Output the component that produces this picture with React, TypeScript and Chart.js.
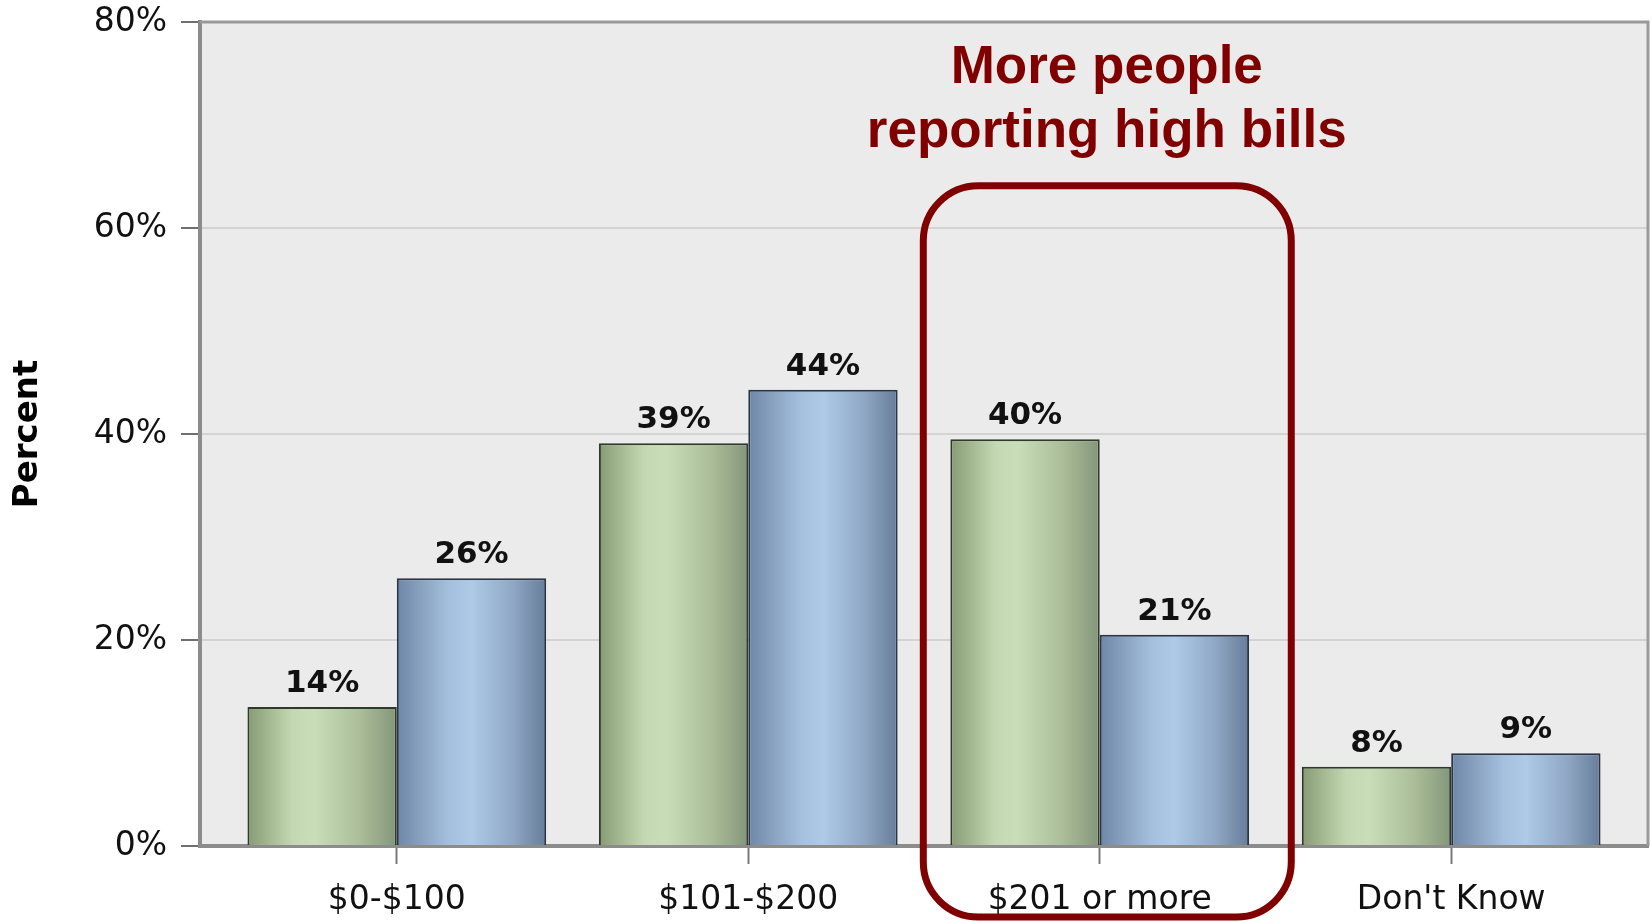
import React, { useEffect, useRef } from "react";
import { Chart, registerables } from "chart.js";

Chart.register(...registerables);

// ---- data ----
const categories = ["$0-$100", "$101-$200", "$201 or more", "Don't Know"];
const seriesEarlier = [13.5, 39.1, 39.5, 7.7];
const seriesLater = [26.0, 44.3, 20.5, 9.0];
const seriesNames = ["Earlier survey", "Later survey"];
const yTickValues = [0, 20, 40, 60, 80];
const calloutLines = ["More people", "reporting high bills"];
const highlightedCategory = 2;

// ---- styling helpers ----
const CATEGORY_PCT = 0.85;
const greenStops: [number, string][] = [
  [0, "#879a74"],
  [0.3, "#c3d8b2"],
  [0.45, "#c9ddb9"],
  [0.75, "#abbe99"],
  [1, "#84967a"],
];
const blueStops: [number, string][] = [
  [0, "#6f87a6"],
  [0.35, "#a5c0de"],
  [0.5, "#aecae7"],
  [0.78, "#8fa7c4"],
  [1, "#677d99"],
];

function barGradient(ctx: any, stops: [number, string][]) {
  const chart = ctx.chart;
  const xs = chart.scales?.x;
  if (!xs || ctx.dataIndex === undefined) return stops[1][1];
  const c = xs.getPixelForValue(ctx.dataIndex);
  const step = xs.getPixelForValue(1) - xs.getPixelForValue(0);
  const w = (step * CATEGORY_PCT) / 2;
  const left = ctx.datasetIndex === 0 ? c - w : c;
  if (!isFinite(left) || !isFinite(w) || w <= 0) return stops[1][1];
  const g = chart.ctx.createLinearGradient(left, 0, left + w, 0);
  stops.forEach(([o, col]) => g.addColorStop(o, col));
  return g;
}

const backgroundPlugin = {
  id: "plotBackground",
  beforeDraw(chart: any) {
    const { ctx, chartArea: a } = chart;
    ctx.save();
    ctx.fillStyle = "#ebebeb";
    ctx.fillRect(a.left, a.top, a.right - a.left, a.bottom - a.top);
    ctx.restore();
  },
  afterDatasetsDraw(chart: any) {
    const { ctx, chartArea: a } = chart;
    ctx.save();
    ctx.strokeStyle = "#999999";
    ctx.lineWidth = 3;
    ctx.beginPath();
    ctx.moveTo(a.left, a.top);
    ctx.lineTo(a.right, a.top);
    ctx.lineTo(a.right, a.bottom);
    ctx.stroke();
    ctx.restore();
  },
};

const valueLabelPlugin = {
  id: "valueLabels",
  afterDatasetsDraw(chart: any) {
    const { ctx } = chart;
    ctx.save();
    ctx.font = "bold 31px 'DejaVu Sans'";
    ctx.fillStyle = "#111111";
    ctx.textAlign = "center";
    ctx.textBaseline = "alphabetic";
    chart.data.datasets.forEach((ds: any, di: number) => {
      const meta = chart.getDatasetMeta(di);
      meta.data.forEach((el: any, i: number) => {
        const v = ds.data[i].y;
        ctx.fillText(Math.round(v) + "%", el.x, el.y - 15);
      });
    });
    ctx.restore();
  },
};

const calloutPlugin = {
  id: "callout",
  afterDraw(chart: any) {
    const { ctx } = chart;
    const xs = chart.scales.x;
    const ys = chart.scales.y;
    const left = xs.getPixelForValue(highlightedCategory - 0.502);
    const right = xs.getPixelForValue(highlightedCategory + 0.545);
    const top = ys.getPixelForValue(64.1);
    const bottom = ys.getPixelForValue(-6.9);
    const r = 55;
    ctx.save();
    ctx.strokeStyle = "#800000";
    ctx.lineWidth = 7;
    ctx.beginPath();
    ctx.moveTo(left + r, top);
    ctx.lineTo(right - r, top);
    ctx.arcTo(right, top, right, top + r, r);
    ctx.lineTo(right, bottom - r);
    ctx.arcTo(right, bottom, right - r, bottom, r);
    ctx.lineTo(left + r, bottom);
    ctx.arcTo(left, bottom, left, bottom - r, r);
    ctx.lineTo(left, top + r);
    ctx.arcTo(left, top, left + r, top, r);
    ctx.closePath();
    ctx.stroke();

    ctx.fillStyle = "#800000";
    ctx.font = "bold 53px 'Liberation Sans'";
    ctx.textAlign = "center";
    ctx.textBaseline = "alphabetic";
    const tx = xs.getPixelForValue(highlightedCategory + 0.02);
    ctx.fillText(calloutLines[0], tx, ys.getPixelForValue(74.1));
    ctx.fillText(calloutLines[1], tx, ys.getPixelForValue(67.9));
    ctx.restore();
  },
};

export default function App() {
  const canvasRef = useRef<HTMLCanvasElement | null>(null);

  useEffect(() => {
    const canvas = canvasRef.current;
    if (!canvas) return;
    Chart.defaults.font.family = "'DejaVu Sans'";
    const chart = new Chart(canvas, {
      type: "bar",
      data: {
        datasets: [
          {
            label: seriesNames[0],
            data: seriesEarlier.map((v, i) => ({ x: i, y: v })),
            backgroundColor: (ctx: any) => barGradient(ctx, greenStops),
            borderColor: "#2e3a2c",
            borderWidth: 2,
            borderSkipped: "bottom",
            categoryPercentage: CATEGORY_PCT,
            barPercentage: 1,
          },
          {
            label: seriesNames[1],
            data: seriesLater.map((v, i) => ({ x: i, y: v })),
            backgroundColor: (ctx: any) => barGradient(ctx, blueStops),
            borderColor: "#2a3446",
            borderWidth: 2,
            borderSkipped: "bottom",
            categoryPercentage: CATEGORY_PCT,
            barPercentage: 1,
          },
        ] as any,
      },
      options: {
        responsive: false,
        animation: false,
        devicePixelRatio: 1,
        layout: { padding: { top: 22, right: 3, left: 0, bottom: 0 } },
        plugins: {
          legend: { display: false },
          tooltip: { enabled: false },
        },
        scales: {
          x: {
            type: "linear",
            position: "bottom",
            offset: false,
            min: -0.56,
            max: 3.56,
            grid: {
              offset: false,
              drawOnChartArea: false,
              tickLength: 18,
              tickColor: "#7a7a7a",
              tickWidth: 2,
            },
            border: { color: "#8c8c8c", width: 4 },
            ticks: {
              stepSize: 1,
              includeBounds: false,
              autoSkip: false,
              maxRotation: 0,
              padding: 17,
              color: "#111111",
              font: { size: 33 },
              callback: (v: any) => categories[v as number] ?? "",
            },
            afterFit: (s: any) => {
              s.height = 77;
              s.paddingLeft = 0;
              s.paddingRight = 0;
            },
          } as any,
          y: {
            min: 0,
            max: 80,
            grid: {
              color: "#d3d3d3",
              lineWidth: 2,
              tickLength: 19,
              tickColor: "#6f6f6f",
              tickWidth: 2,
            },
            border: { color: "#8c8c8c", width: 4 },
            ticks: {
              padding: 14,
              color: "#111111",
              font: { size: 33 },
              callback: (v: any) => v + "%",
            },
            afterBuildTicks: (s: any) => {
              s.ticks = yTickValues.map((v) => ({ value: v }));
            },
            title: {
              display: true,
              text: "Percent",
              color: "#000000",
              font: { size: 34, weight: "bold" },
              padding: { top: 8, bottom: 0 },
            },
            afterFit: (s: any) => {
              s.width = 200;
              s.paddingTop = 0;
              s.paddingBottom = 0;
            },
          } as any,
        },
      },
      plugins: [backgroundPlugin, valueLabelPlugin, calloutPlugin],
    });
    return () => chart.destroy();
  }, []);

  return (
    <div style={{ position: "fixed", left: 0, top: 0, width: 1651, height: 923, background: "#ffffff" }}>
      <canvas ref={canvasRef} width={1651} height={923} />
    </div>
  );
}
